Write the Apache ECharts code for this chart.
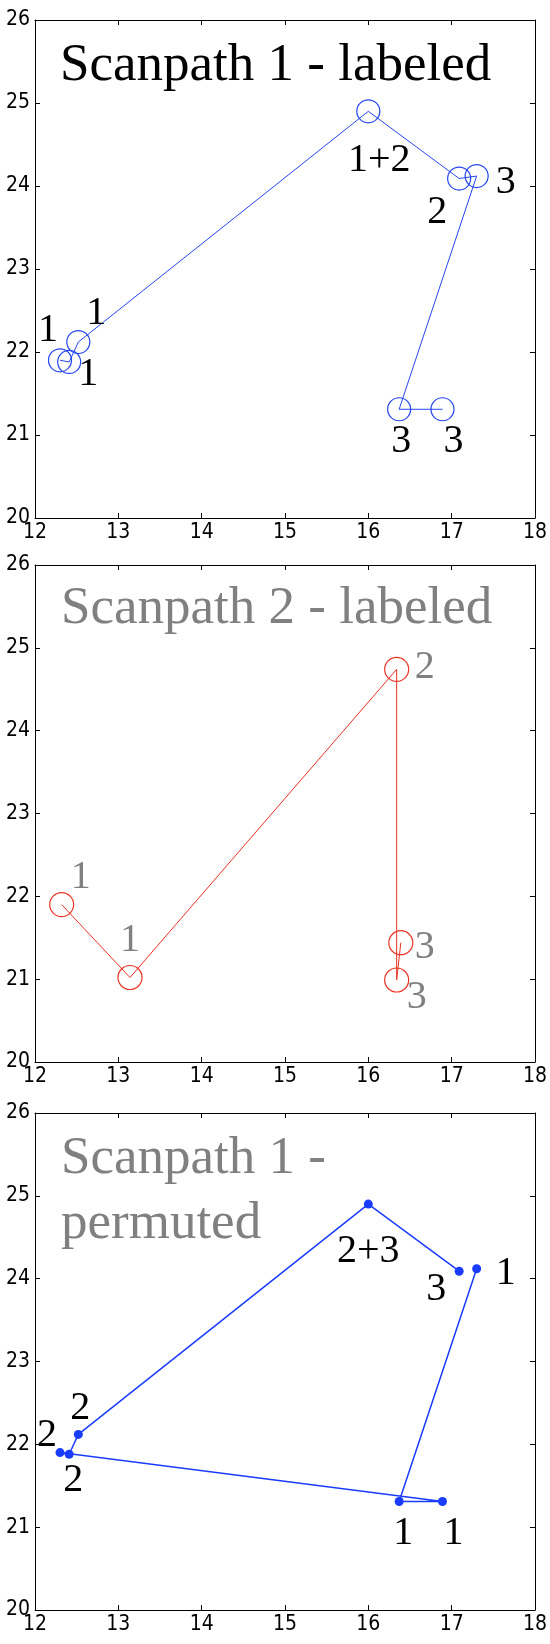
<!DOCTYPE html>
<html>
<head>
<meta charset="utf-8">
<script src="https://cdn.jsdelivr.net/npm/echarts@6/dist/echarts.min.js"></script>
<style>
  html, body { margin: 0; padding: 0; background: #fff; }
  #chart { width: 550px; height: 1644px; }
</style>
</head>
<body>
<div id="chart"></div>
<script>
// axis ticks (same for all three panels)
const xTicks = [12, 13, 14, 15, 16, 17, 18];
const yTicks = [20, 21, 22, 23, 24, 25, 26];

// scanpath 1, in viewing order
const path1X = [12.30, 12.41, 12.52, 16.00, 17.09, 17.30, 16.37, 16.89];
const path1Y = [21.90, 21.88, 22.12, 24.90, 24.09, 24.12, 21.31, 21.31];
const path1Labels = ['1', '1', '1', '1+2', '2', '3', '3', '3'];

// scanpath 2
const path2X = [12.32, 13.14, 16.34, 16.34, 16.39];
const path2Y = [21.90, 21.02, 24.74, 20.99, 21.44];
const path2Labels = ['1', '1', '2', '3', '3'];

// scanpath 1 with permuted labels, same fixations in another order
const path3X = [17.30, 16.37, 16.89, 12.30, 12.41, 12.52, 16.00, 17.09];
const path3Y = [24.12, 21.31, 21.31, 21.90, 21.88, 22.12, 24.90, 24.09];
const path3Labels = ['1', '1', '1', '2', '2', '2', '2+3', '3'];

const titles = ['Scanpath 1 - labeled', 'Scanpath 2 - labeled', 'Scanpath 1 -\npermuted'];

// label placement (pixels from the fixation)
const off1 = [[-12, -30], [19, 13], [18, -29], [11, 49], [-22, 34], [29, 6], [2, 32], [11, 32]];
const off2 = [[19, -27], [0, -37], [28, -2], [20, 18], [24, 5]];
const off3 = [[29, 5], [4, 32], [11, 32], [-13, -17], [4, 26], [2, -26], [0, 47], [-23, 18]];

const grids = [
    { left: 35, width: 500, top: 20, height: 498 },
    { left: 35, width: 500, top: 565, height: 497 },
    { left: 35, width: 500, top: 1113, height: 497 }
];

const tickFont = '"Liberation Sans Narrow", "DejaVu Sans Condensed", sans-serif';

function makePoints(xs, ys, labels, offs) {
    return xs.map((x, i) => ({
        value: [x, ys[i]],
        label: { formatter: labels[i], offset: offs[i] }
    }));
}

let xAxes = [], yAxes = [];
grids.forEach((g, i) => {
    const common = {
        type: 'value', gridIndex: i,
        min: xTicks[0], max: xTicks[xTicks.length - 1], interval: xTicks[1] - xTicks[0],
        axisLine: { show: true, lineStyle: { color: '#000', width: 1 } },
        axisTick: { show: true, inside: true, length: 5, lineStyle: { color: '#000' } },
        splitLine: { show: false }
    };
    xAxes.push(Object.assign({}, common, {
        position: 'bottom',
        axisLabel: { color: '#000', fontSize: 21, fontFamily: tickFont, margin: 4 }
    }));
    xAxes.push(Object.assign({}, common, { position: 'top', axisLabel: { show: false } }));
    const ycommon = Object.assign({}, common, {
        min: yTicks[0], max: yTicks[yTicks.length - 1], interval: yTicks[1] - yTicks[0]
    });
    yAxes.push(Object.assign({}, ycommon, {
        position: 'left',
        axisLabel: { color: '#000', fontSize: 21, fontFamily: tickFont, margin: 5 }
    }));
    yAxes.push(Object.assign({}, ycommon, { position: 'right', axisLabel: { show: false } }));
});

function pathSeries(i, data, color, symbol, size, lineWidth, labelColor) {
    return {
        type: 'line',
        xAxisIndex: i * 2,
        yAxisIndex: i * 2,
        data: data,
        symbol: 'circle',
        symbolSize: size,
        showAllSymbol: true,
        lineStyle: { color: color, width: lineWidth },
        itemStyle: symbol === 'open'
            ? { color: 'rgba(0,0,0,0)', borderColor: color, borderWidth: 1.2 }
            : { color: color, borderWidth: 0 },
        label: {
            show: true,
            position: 'inside',
            color: labelColor,
            fontFamily: 'Liberation Serif',
            fontSize: 40
        },
        emphasis: { disabled: true },
        z: 3
    };
}

const titleText = (text, x, y, color) => ({
    type: 'text',
    left: x,
    top: y,
    style: {
        text: text,
        fill: color,
        font: '53px "Liberation Serif"',
        lineHeight: 65
    }
});

const option = {
    animation: false,
    backgroundColor: '#fff',
    grid: grids.map(g => Object.assign({ show: false }, g)),
    xAxis: xAxes,
    yAxis: yAxes,
    series: [
        pathSeries(0, makePoints(path1X, path1Y, path1Labels, off1), '#2446ee', 'open', 23, 1, '#000'),
        pathSeries(1, makePoints(path2X, path2Y, path2Labels, off2), '#ec3223', 'open', 24, 1, '#808080'),
        pathSeries(2, makePoints(path3X, path3Y, path3Labels, off3), '#1a3cff', 'dot', 9, 1.5, '#000')
    ],
    graphic: [
        titleText(titles[0], 60, 34, '#000'),
        titleText(titles[1], 61, 577, '#808080'),
        titleText(titles[2], 61, 1127, '#808080')
    ]
};

const chart = echarts.init(document.getElementById('chart'));
chart.setOption(option);
</script>
</body>
</html>
